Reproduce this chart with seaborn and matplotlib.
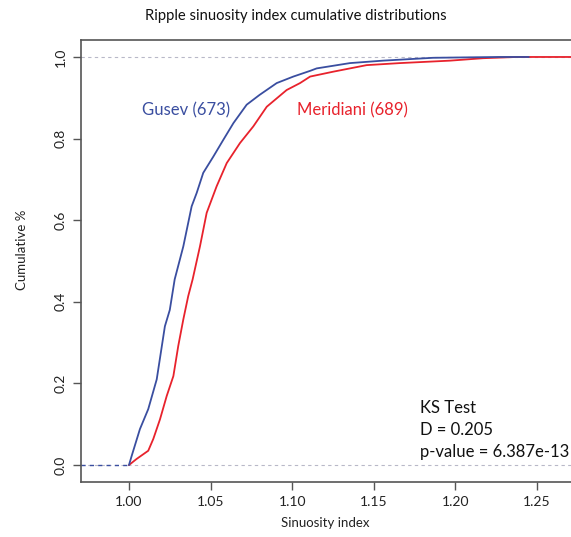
import matplotlib
matplotlib.use("Agg")
import matplotlib.pyplot as plt
import seaborn as sns
import pandas as pd

# ECDF curves (sinuosity index, cumulative fraction)
gusev_x = [1.000, 1.0017, 1.0067, 1.0118, 1.017, 1.022, 1.025, 1.028, 1.0333, 1.0384,
           1.0415, 1.0455, 1.0517, 1.0578, 1.064, 1.0721, 1.080, 1.0905, 1.1007, 1.111,
           1.115, 1.1354, 1.1556, 1.1863, 1.227, 1.245]
gusev_y = [0.000, 0.023, 0.088, 0.137, 0.210, 0.340, 0.380, 0.455, 0.536, 0.634,
           0.667, 0.716, 0.756, 0.797, 0.838, 0.883, 0.907, 0.936, 0.952, 0.966,
           0.972, 0.985, 0.991, 0.998, 1.000, 1.000]
meridiani_x = [1.000, 1.0047, 1.0118, 1.0149, 1.019, 1.0231, 1.0272, 1.0302, 1.0333, 1.0363,
               1.039, 1.0435, 1.0476, 1.0537, 1.0599, 1.068, 1.0762, 1.0844, 1.0966, 1.1048,
               1.111, 1.1252, 1.1456, 1.166, 1.1967, 1.217, 1.2375, 1.30]
meridiani_y = [0.000, 0.015, 0.035, 0.064, 0.112, 0.169, 0.218, 0.292, 0.357, 0.414,
               0.455, 0.536, 0.618, 0.683, 0.740, 0.789, 0.830, 0.878, 0.919, 0.936,
               0.952, 0.964, 0.980, 0.985, 0.991, 0.997, 1.000, 1.000]
x_ticks = [1.00, 1.05, 1.10, 1.15, 1.20, 1.25]
y_ticks = [0.0, 0.2, 0.4, 0.6, 0.8, 1.0]

sns.set_theme(style="white")
plt.rcParams['font.family'] = ['Lato', 'DejaVu Sans']

W, H = 571, 537
fig = plt.figure(figsize=(W / 100, H / 100), dpi=100)
x0, x1 = 0.9706, 1.30
left_px, right_px = 81, 129 + (x1 - 1.0) * 1632
top_px, bot_px = 40, 482
ax = fig.add_axes([left_px / W, 1 - bot_px / H, (right_px - left_px) / W, (bot_px - top_px) / H])

blue = "#3a4ea0"
red = "#e8222c"
grey = "#555555"

ax.axhline(0, color="#b8b8c8", lw=0.8, ls=(0, (3, 3)), zorder=1)
ax.axhline(1, color="#b8b8c8", lw=0.8, ls=(0, (3, 3)), zorder=1)
ax.plot([x0, 1.0], [0, 0], color=blue, lw=1.0, ls=(0, (3, 3)), zorder=2)

dg = pd.DataFrame({"x": gusev_x, "y": gusev_y})
dm = pd.DataFrame({"x": meridiani_x, "y": meridiani_y})
sns.lineplot(data=dm, x="x", y="y", sort=False, estimator=None, color=red, lw=1.3, ax=ax, zorder=3)
sns.lineplot(data=dg, x="x", y="y", sort=False, estimator=None, color=blue, lw=1.3, ax=ax, zorder=4)

ax.set_xlim(x0, x1)
ax.set_ylim(-0.0416, 1.0416)
ax.set_xticks(x_ticks)
ax.set_xticklabels([f"{v:.2f}" for v in x_ticks])
ax.set_yticks(y_ticks)
ax.set_yticklabels([f"{v:.1f}" for v in y_ticks], rotation=90, va="center")
ax.tick_params(axis="both", direction="out", length=6, width=1, color=grey,
               labelsize=10, labelcolor="#222222", left=True, bottom=True, pad=4)
for s in ax.spines.values():
    s.set_color(grey)
    s.set_linewidth(1.2)
ax.set_xlabel("")
ax.set_ylabel("")

fig.text(296 / W, 1 - 16 / H, "Ripple sinuosity index cumulative distributions",
         ha="center", va="center", fontsize=10.6, color="#111111")
fig.text(325 / W, 1 - 523 / H, "Sinuosity index", ha="center", va="center", fontsize=9.5, color="#222222")
fig.text(22 / W, 1 - 250 / H, "Cumulative %", ha="center", va="center", rotation=90, fontsize=9.5, color="#222222")

fig.text(186 / W, 1 - 110 / H, "Gusev (673)", ha="center", va="center", fontsize=12, color=blue)
fig.text(352 / W, 1 - 110 / H, "Meridiani (689)", ha="center", va="center", fontsize=12, color=red)
fig.text(420 / W, 1 - 408 / H, "KS Test", ha="left", va="center", fontsize=12, color="#111111")
fig.text(420 / W, 1 - 430 / H, "D = 0.205", ha="left", va="center", fontsize=12, color="#111111")
fig.text(420 / W, 1 - 452 / H, "p-value = 6.387e-13", ha="left", va="center", fontsize=12, color="#111111")

fig.savefig("out.png", dpi=100)
